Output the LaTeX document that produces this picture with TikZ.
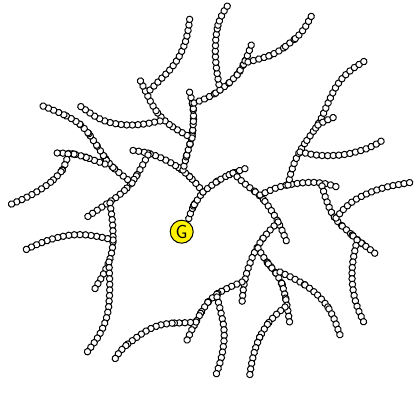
\documentclass[tikz,border=0pt]{standalone}
\usepackage{tikz}
\usetikzlibrary{decorations.markings,calc}

\begin{document}
\begin{tikzpicture}[
    x=1pt,y=-1pt,
    bead/.style={draw=black,fill=white,line width=1pt},
    chain/.style={rounded corners=9pt,decorate,decoration={markings,
      mark=between positions 0 and 1 step 5.6pt with {\path[bead] (0,0) circle (3.2pt);}}},
    core/.style={circle,draw=black,fill=yellow,line width=1pt,inner sep=0pt,
      minimum size=23pt,font=\fontsize{19}{19}\selectfont\sffamily}
]

\useasboundingbox (0,0) rectangle (417,392);

% core
\node[core] (G) at (181.7,231.7) {G};
\coordinate (b0) at (203,192);
\coordinate (g1) at ($(G.center)!15pt!(b0)$);

% first generation
\path[chain] (g1) -- (191,210) -- (197,200) -- (b0);
\path[chain] (b0) -- (195,182) -- (185,172) -- (172,163) -- (155,155) -- (140,151) -- (128,150);
\path[chain] (b0) -- (212,185) -- (222,178) -- (235,172) -- (247,168);

% upper part
\path[chain] (183,170) -- (185,162) -- (188,150) -- (192,138) -- (193,127) -- (194,113) -- (192,100) -- (188,87);
\path[chain] (192,138) -- (177,130) -- (163,120) -- (153,107) -- (145,90) -- (138,76);
\path[chain] (150,90) -- (160,80) -- (173,67) -- (183,50) -- (188,33) -- (190,16);
\path[chain] (160,121) -- (140,125) -- (120,125) -- (100,120) -- (80,106);
\path[chain] (194,103) -- (210,97) -- (223,88) -- (235,78) -- (242,68) -- (247,57) -- (252,43);
\path[chain] (220,90) -- (218,80) -- (215,57) -- (216,33) -- (220,17) -- (228,5);
\path[chain] (248,62) -- (263,58) -- (277,53) -- (290,43) -- (302,33) -- (312,15);

% left part
\path[chain] (148,155) -- (140,170) -- (132,183) -- (120,195) -- (105,205) -- (87,217);
\path[chain] (132,183) -- (118,172) -- (108,163) -- (102,153) -- (93,140) -- (85,128) -- (73,119) -- (58,112) -- (43,106);
\path[chain] (105,164) -- (93,160) -- (80,155) -- (67,153) -- (53,153);
\path[chain] (68,154) -- (66,165) -- (58,176) -- (45,187) -- (28,197) -- (7,206);
\path[chain] (110,203) -- (113,225) -- (113,250) -- (106,270) -- (93,292);
\path[chain] (113,240) -- (97,236) -- (77,234) -- (58,237) -- (40,243) -- (23,251);
\path[chain] (109,262) -- (110,290) -- (108,315) -- (100,335) -- (85,355);

% right part
\path[chain] (233,173) -- (247,186) -- (260,195) -- (270,208) -- (280,225) -- (288,245);
\path[chain] (260,195) -- (280,186) -- (307,182) -- (325,183) -- (340,188);
\path[chain] (288,185) -- (292,168) -- (300,150) -- (310,136) -- (320,122) -- (327,105) -- (337,84) -- (350,70) -- (368,59);
\path[chain] (318,125) -- (328,119) -- (338,116);
\path[chain] (300,152) -- (320,156) -- (345,155) -- (370,148) -- (383,140);
\path[chain] (322,186) -- (327,203) -- (335,220) -- (347,230) -- (357,240) -- (367,247) -- (377,255);
\path[chain] (357,240) -- (352,265) -- (352,285) -- (356,305) -- (365,325);
\path[chain] (336,218) -- (347,205) -- (363,195) -- (385,187) -- (413,182);

% lower part
\path[chain] (278,222) -- (267,233) -- (258,245) -- (250,262) -- (244,282) -- (242,303);
\path[chain] (258,248) -- (265,260) -- (272,268) -- (280,278) -- (284,290) -- (287,305) -- (290,325);
\path[chain] (280,272) -- (297,280) -- (310,288) -- (323,300) -- (332,313) -- (340,335);
\path[chain] (285,307) -- (273,317) -- (263,330) -- (257,343) -- (252,360) -- (249,380);
\path[chain] (242,282) -- (225,289) -- (212,297) -- (204,307) -- (197,320) -- (190,333) -- (185,345);
\path[chain] (217,297) -- (221,312) -- (225,333) -- (222,357) -- (215,378);
\path[chain] (196,322) -- (183,323) -- (167,323) -- (150,328) -- (133,340) -- (120,350) -- (115,359);

\end{tikzpicture}
\end{document}
